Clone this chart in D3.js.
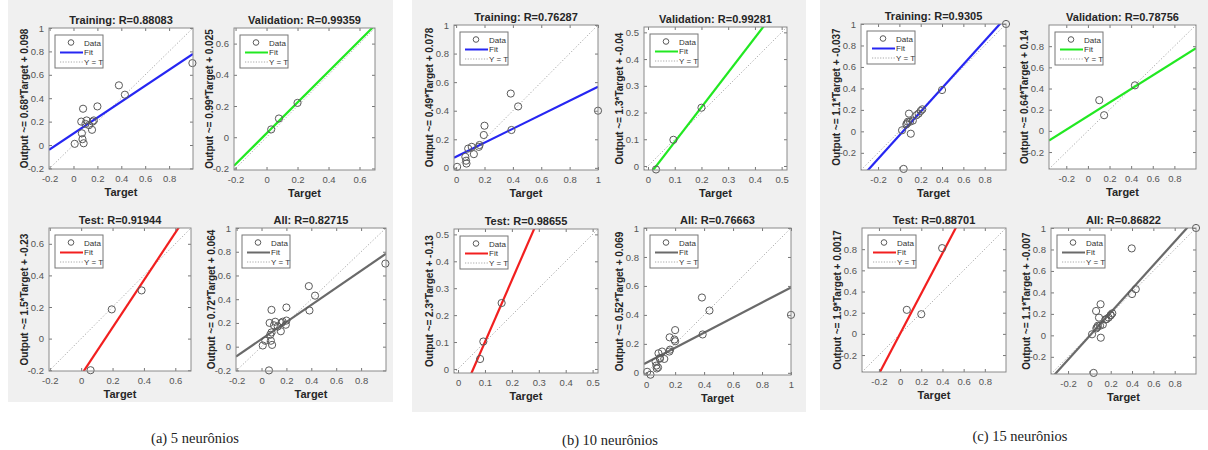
<!DOCTYPE html>
<html>
<head>
<meta charset="utf-8">
<script src="https://cdn.jsdelivr.net/npm/d3@7/dist/d3.min.js"></script>
<style>
body { margin: 0; background: #fff; }
text { font-family: "Liberation Sans", Arial, sans-serif; }
</style>
</head>
<body>
<svg id="chart" width="1208" height="450"></svg>
<script>
// ---- data ----
var captions = ["(a) 5 neurônios", "(b) 10 neurônios", "(c) 15 neurônios"];
var plotNames = ["Training", "Validation", "Test", "All"];
var rValues = [[0.88083, 0.99359, 0.91944, 0.82715],
               [0.76287, 0.99281, 0.98655, 0.76663],
               [0.9305, 0.78756, 0.88701, 0.86822]];
var fitSlopes = [[0.68, 0.99, 1.5, 0.72],
                 [0.49, 1.3, 2.3, 0.52],
                 [1.1, 0.64, 1.9, 1.1]];
var fitIntercepts = [[0.098, 0.025, -0.23, 0.064],
                     [0.078, -0.04, -0.13, 0.069],
                     [-0.037, 0.14, 0.0017, -0.007]];

// [target, output]
var trainA = [[0.01,0.01],[0.065,0.2],[0.08,0.31],[0.07,0.1],[0.075,0.05],[0.085,0.015],
              [0.1,0.18],[0.11,0.21],[0.13,0.17],[0.155,0.13],[0.16,0.2],[0.17,0.21],
              [0.2,0.33],[0.38,0.51],[0.43,0.43],[0.995,0.7]];
var valA = [[0.03,0.05],[0.08,0.12],[0.2,0.22]];
var testA = [[0.06,-0.2],[0.195,0.185],[0.385,0.305]];

var trainB = [[0.007,0.007],[0.065,0.077],[0.07,0.05],[0.073,0.03],[0.085,0.135],[0.11,0.147],
              [0.125,0.096],[0.16,0.147],[0.165,0.16],[0.195,0.23],[0.2,0.295],[0.385,0.52],
              [0.39,0.265],[0.437,0.43],[1.0,0.4]];
var valB = [[0.03,-0.013],[0.095,0.098],[0.2,0.218]];
var testB = [[0.082,0.037],[0.094,0.102],[0.162,0.245]];

var trainC = [[0.025,0.01],[0.04,-0.35],[0.065,0.065],[0.072,0.075],[0.08,0.09],[0.09,0.165],
              [0.107,-0.022],[0.1,0.09],[0.126,0.1],[0.16,0.15],[0.18,0.165],[0.2,0.19],
              [0.215,0.205],[0.4,0.385],[1.0,1.0]];
var valC = [[0.105,0.29],[0.15,0.148],[0.435,0.43]];
var testC = [[0.063,0.227],[0.2,0.186],[0.397,0.81]];

var limits = [[[-0.205,1.0],[-0.21,0.7],[-0.205,0.7],[-0.205,1.0]],
              [[-0.015,1.0],[-0.015,0.52],[-0.015,0.52],[-0.015,1.0]],
              [[-0.36,1.0],[-0.36,1.0],[-0.36,1.0],[-0.36,1.0]]];

var ticksA1 = [-0.2,0,0.2,0.4,0.6,0.8,1];
var ticksA2 = [-0.2,0,0.2,0.4,0.6];
var ticksB1 = [0,0.2,0.4,0.6,0.8,1];
var ticksB2 = [0,0.1,0.2,0.3,0.4,0.5];
var ticksC1 = [-0.2,0,0.2,0.4,0.6,0.8,1];
var ticksC2 = [-0.2,0,0.2,0.4,0.6,0.8];
// [x ticks, y ticks] per plot
var tickSets = [[[ticksA1.slice(0,6),ticksA1],[ticksA2,ticksA2],[ticksA2,ticksA2],[ticksA1.slice(0,6),ticksA1]],
                [[ticksB1,ticksB1],[ticksB2,ticksB2],[ticksB2,ticksB2],[ticksB1,ticksB1]],
                [[ticksC2,ticksC1],[ticksC2,ticksC2],[ticksC2,ticksC2],[ticksC2,ticksC1]]];

var dataSets = [[trainA, valA, testA, trainA.concat(valA, testA)],
                [trainB, valB, testB, trainB.concat(valB, testB)],
                [trainC, valC, testC, trainC.concat(valC, testC)]];

// ---- layout ----
var panelRects = [[8,0,393,402],[412,0,806,412],[820,0,1208,410]];
var captionPos = [[195,443],[610,445],[1020,441]];
// axes boxes [x0,y0,x1,y1]
var boxes = [[[49,28,193,169],[234,28,375,170],[49,228,191,371],[236,228,386,371]],
             [[454,25,598,170],[644,27,787,170],[454,229,598,373],[644,228,791,375]],
             [[861,24,1006,170],[1049,25,1196,169],[862,228,1006,372],[1051,228,1196,374]]];
var fitColors = ["#2626f2", "#22e822", "#f21f1f", "#6a6a6a"];

var svg = d3.select("#chart");

panelRects.forEach(function(r, i){
    svg.append("rect").attr("x", r[0]).attr("y", r[1])
        .attr("width", r[2]-r[0]).attr("height", r[3]-r[1])
        .attr("fill", "#f0f0f0");
    svg.append("text").attr("x", captionPos[i][0]).attr("y", captionPos[i][1])
        .attr("text-anchor", "middle")
        .style("font-family", "'Liberation Serif', 'Times New Roman', serif")
        .style("font-size", "14.5px").attr("fill", "#222")
        .text(captions[i]);
});

var clipId = 0;
function drawPlot(p, k){
    var b = boxes[p][k], lim = limits[p][k];
    var x = d3.scaleLinear().domain(lim).range([b[0], b[2]]);
    var y = d3.scaleLinear().domain(lim).range([b[3], b[1]]);
    var g = svg.append("g");
    var cid = "clip" + (clipId++);
    g.append("clipPath").attr("id", cid).append("rect")
        .attr("x", b[0]).attr("y", b[1]).attr("width", b[2]-b[0]).attr("height", b[3]-b[1]);

    g.append("rect").attr("x", b[0]).attr("y", b[1])
        .attr("width", b[2]-b[0]).attr("height", b[3]-b[1]).attr("fill", "#fff");

    var inner = g.append("g").attr("clip-path", "url(#" + cid + ")");
    // Y = T
    inner.append("line")
        .attr("x1", x(lim[0])).attr("y1", y(lim[0]))
        .attr("x2", x(lim[1])).attr("y2", y(lim[1]))
        .attr("stroke", "#a8a8a8").attr("stroke-width", 1).attr("stroke-dasharray", "1.2,2");
    // fit
    var m = fitSlopes[p][k], c = fitIntercepts[p][k];
    inner.append("line")
        .attr("x1", x(lim[0])).attr("y1", y(m*lim[0]+c))
        .attr("x2", x(lim[1])).attr("y2", y(m*lim[1]+c))
        .attr("stroke", fitColors[k]).attr("stroke-width", 2.2);
    // data
    g.selectAll("circle.pt").data(dataSets[p][k]).enter().append("circle")
        .attr("class", "pt")
        .attr("cx", function(d){ return x(d[0]); })
        .attr("cy", function(d){ return y(d[1]); })
        .attr("r", 3.6).attr("fill", "none").attr("stroke", "#5a5a5a").attr("stroke-width", 1);

    // axes
    var fmt = function(d){ return String(d); };
    g.append("g").attr("transform", "translate(0," + b[3] + ")")
        .call(d3.axisBottom(x).tickValues(tickSets[p][k][0]).tickSize(-3).tickPadding(6).tickFormat(fmt));
    g.append("g").attr("transform", "translate(" + b[0] + ",0)")
        .call(d3.axisLeft(y).tickValues(tickSets[p][k][1]).tickSize(-3).tickPadding(5).tickFormat(fmt));
    g.append("g").attr("transform", "translate(0," + b[1] + ")")
        .call(d3.axisTop(x).tickValues(tickSets[p][k][0]).tickSize(-3).tickFormat(""));
    g.append("g").attr("transform", "translate(" + b[2] + ",0)")
        .call(d3.axisRight(y).tickValues(tickSets[p][k][1]).tickSize(-3).tickFormat(""));
    g.selectAll(".domain").remove();
    g.selectAll(".tick line").attr("stroke", "#777");
    g.selectAll(".tick text").attr("fill", "#555").style("font-size", "9.5px")
        .style("font-family", "'Liberation Sans', Arial, sans-serif");
    g.append("rect").attr("x", b[0]).attr("y", b[1])
        .attr("width", b[2]-b[0]).attr("height", b[3]-b[1])
        .attr("fill", "none").attr("stroke", "#8a8a8a").attr("stroke-width", 1);

    // legend
    var lx = b[0] + 6, ly = b[1] + 7;
    var lg = g.append("g");
    lg.append("rect").attr("x", lx).attr("y", ly).attr("width", 48).attr("height", 33)
        .attr("fill", "#fff").attr("stroke", "#777").attr("stroke-width", 1);
    lg.append("circle").attr("cx", lx + 16).attr("cy", ly + 7.5).attr("r", 2.8)
        .attr("fill", "none").attr("stroke", "#5a5a5a");
    lg.append("line").attr("x1", lx + 5).attr("x2", lx + 28).attr("y1", ly + 17.5).attr("y2", ly + 17.5)
        .attr("stroke", fitColors[k]).attr("stroke-width", 2);
    lg.append("line").attr("x1", lx + 5).attr("x2", lx + 28).attr("y1", ly + 27).attr("y2", ly + 27)
        .attr("stroke", "#a8a8a8").attr("stroke-dasharray", "1.2,1.5");
    ["Data", "Fit", "Y = T"].forEach(function(t, i){
        lg.append("text").attr("x", lx + 29).attr("y", ly + 10.5 + i*9.7)
            .style("font-size", "8px").attr("fill", "#333").text(t);
    });

    // titles
    var cx = (b[0] + b[2]) / 2, cy = (b[1] + b[3]) / 2;
    g.append("text").attr("x", cx).attr("y", b[1] - 4).attr("text-anchor", "middle")
        .style("font-size", "11px").style("font-weight", "bold").attr("fill", "#262626")
        .text(plotNames[k] + ": R=" + rValues[p][k]);
    g.append("text").attr("x", cx).attr("y", b[3] + 27).attr("text-anchor", "middle")
        .style("font-size", "11px").style("font-weight", "bold").attr("fill", "#262626")
        .text("Target");
    g.append("text").attr("transform", "translate(" + (b[0] - 21) + "," + cy + ") rotate(-90)")
        .attr("text-anchor", "middle")
        .style("font-size", "10px").style("font-weight", "bold").attr("fill", "#262626")
        .text("Output ~= " + fitSlopes[p][k] + "*Target + " + fitIntercepts[p][k]);
}

for (var p = 0; p < 3; p++) {
    for (var k = 0; k < 4; k++) drawPlot(p, k);
}
</script>
</body>
</html>
